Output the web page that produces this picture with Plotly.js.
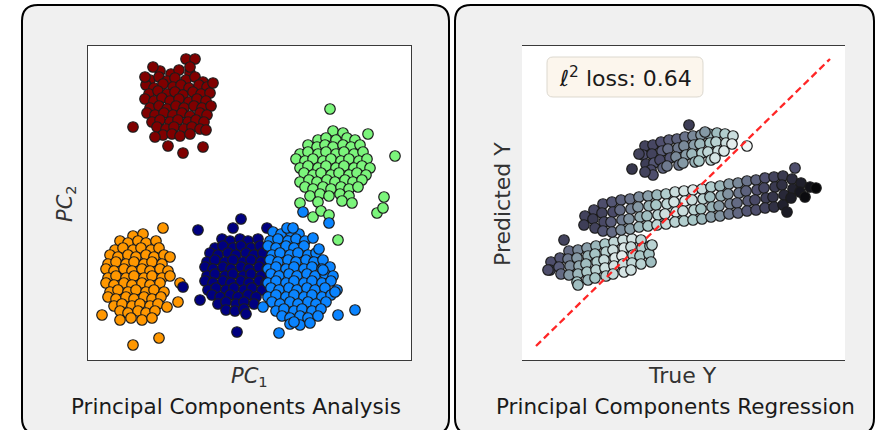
<!DOCTYPE html>
<html>
<head>
<meta charset="utf-8">
<script src="https://cdn.plot.ly/plotly-3.0.1.min.js"></script>
<style>
  html, body { margin: 0; padding: 0; background: #ffffff; }
  #chart { width: 876px; height: 430px; }
</style>
</head>
<body>
<div id="chart"></div>
<script>
// ---------- Principal Components Analysis: five clusters in (PC1, PC2) ----------
const darkRedX = [7.2,8.3,9.1,10.2, 6.2,7.1,7.9,8.7,9.8,10.7,11.5, 5.8,6.6,7.5,8.5,9.3,10.1,11.1,11.9,
  6.1,7.0,7.9,8.7,9.5,10.5,11.3,12.2, 5.7,6.6,7.4,8.2,9.1,10.1,10.9,11.8, 6.2,7.1,7.9,8.8,9.6,10.6,11.4,12.3,
  5.9,6.7,7.6,8.5,9.4,10.2,11.2,11.9, 6.4,7.2,8.2,9.0,10.0,10.8,11.6, 6.9,7.8,8.6,9.6,10.4,11.2, 7.5,8.4,9.2,10.2,
  4.5,12.5,9.8,10.7,6.5,5.7,9.5,11.5,8.0,6.7,11.8,10.2];
const darkRedY = [28.9,28.6,29.0,28.7, 28.0,28.3,27.9,28.2,28.0,28.3,27.8, 27.5,27.2,27.6,27.3,27.5,27.2,27.5,27.3,
  26.6,26.9,26.6,26.8,26.5,26.8,26.6,26.7, 26.1,25.9,26.2,25.9,26.1,25.8,26.1,25.9, 25.2,25.4,25.1,25.4,25.2,25.4,25.2,25.4,
  24.7,24.5,24.7,24.5,24.7,24.4,24.7,24.5, 23.8,24.0,23.8,24.0,23.8,24.0,23.8, 23.3,23.1,23.3,23.1,23.3,23.1, 22.5,22.6,22.4,22.6,
  23.3,27.7,30.1,30.1,29.3,28.3,20.7,21.3,21.4,22.3,23.0,29.3];

const greenX = [24.5,25.5, 23.0,23.8,24.8,25.9,26.7, 22.0,22.9,23.7,24.5,25.5,26.3,27.2,
  21.2,22.0,23.0,23.8,24.8,25.6,26.6,27.5, 20.8,21.7,22.5,23.5,24.3,25.3,26.1,27.1,27.9,
  21.2,22.0,23.0,23.8,24.8,25.6,26.6,27.4,28.2, 21.6,22.5,23.3,24.3,25.1,26.1,26.9,27.8,
  21.2,22.1,22.9,23.9,24.7,25.7,26.5,27.4, 21.7,22.5,23.5,24.3,25.3,26.1,27.0, 22.2,23.2,24.1,25.2,26.1, 23.0,25.4,26.4,
  24.2,30.7,28.0,29.6,28.9,29.5,25.0,22.5,23.3,24.1,21.2];
const greenY = [22.9,22.7, 22.0,22.2,22.0,22.2,22.0, 21.5,21.3,21.5,21.3,21.5,21.3,21.5,
  20.6,20.8,20.6,20.8,20.6,20.8,20.6,20.8, 20.1,19.9,20.1,19.9,20.1,19.9,20.1,19.9,20.1,
  19.2,19.4,19.2,19.4,19.2,19.4,19.2,19.4,19.2, 18.7,18.5,18.7,18.5,18.7,18.5,18.7,18.5,
  17.8,18.0,17.8,18.0,17.8,18.0,17.8,18.0, 17.3,17.1,17.3,17.1,17.3,17.1,17.3, 16.4,16.6,16.4,16.6,16.4, 15.8,15.9,15.7,
  25.1,20.4,22.6,16.3,14.7,15.2,12.0,14.3,14.9,14.5,15.7];

const orangeX = [4.5,5.5, 3.2,4.0,5.0,5.8,6.8, 2.7,3.5,4.5,5.3,6.3,7.1, 2.2,3.0,4.0,4.8,5.8,6.6,7.6,8.2,
  2.0,2.8,3.8,4.6,5.6,6.4,7.4, 1.8,2.6,3.6,4.4,5.4,6.2,7.2,8.0, 2.0,2.8,3.8,4.6,5.6,6.4,7.4,8.2,
  1.8,2.6,3.6,4.4,5.4,6.2,7.2, 2.2,3.0,4.0,4.8,5.8,6.6,7.6, 2.0,2.8,3.8,4.6,5.6,6.4,7.3,
  2.6,3.4,4.4,5.2,6.2,7.0, 3.2,4.0,5.0,5.8,6.7, 3.2,4.3,5.4,6.4,
  1.4,4.5,7.1,9.0,7.9,9.2,7.5];
const orangeY = [12.4,12.6, 11.9,11.7,11.9,11.7,11.9, 11.0,11.2,11.0,11.2,11.0,11.2, 10.5,10.3,10.5,10.3,10.5,10.3,10.5,10.3,
  9.6,9.8,9.6,9.8,9.6,9.8,9.6, 9.1,8.9,9.1,8.9,9.1,8.9,9.1,8.9, 8.2,8.4,8.2,8.4,8.2,8.4,8.2,8.4,
  7.7,7.5,7.7,7.5,7.7,7.5,7.7, 6.8,7.0,6.8,7.0,6.8,7.0,6.8, 6.3,6.1,6.3,6.1,6.3,6.1,6.3,
  5.4,5.6,5.4,5.6,5.4,5.6, 4.9,4.7,4.9,4.7,4.9, 4.0,4.2,4.0,4.2,
  4.5,1.5,2.2,5.8,5.3,7.7,13.2];

const navyX = [13.4,14.2,15.2,16.0,17.0, 12.7,13.5,14.5,15.3,16.3,17.2, 12.2,13.0,14.0,14.8,15.8,16.6,17.5,
  11.9,12.7,13.7,14.5,15.5,16.3,17.3, 11.7,12.5,13.5,14.3,15.3,16.1,17.1,17.9, 11.9,12.7,13.7,14.5,15.5,16.3,17.3,
  11.7,12.5,13.5,14.3,15.3,16.1,17.1,17.8, 12.0,12.8,13.8,14.6,15.6,16.4,17.4, 12.4,13.2,14.2,15.0,16.0,16.8,
  13.0,13.8,14.8,15.6,16.6, 13.8,14.7,15.6,
  11.0,15.3,14.5,17.9,11.2,14.9,15.8,9.5];
const navyY = [12.1,11.9,12.1,11.9,12.1, 11.2,11.4,11.2,11.4,11.2,11.4, 10.7,10.5,10.7,10.5,10.7,10.5,10.7,
  9.8,10.0,9.8,10.0,9.8,10.0,9.8, 9.3,9.1,9.3,9.1,9.3,9.1,9.3,9.1, 8.4,8.6,8.4,8.6,8.4,8.6,8.4,
  7.9,7.7,7.9,7.7,7.9,7.7,7.9,7.7, 7.0,7.2,7.0,7.2,7.0,7.2,7.0, 6.5,6.3,6.5,6.3,6.5,6.3,
  5.6,5.8,5.6,5.8,5.6, 5.0,4.9,5.1,
  13.0,14.1,13.2,13.2,6.0,2.8,4.6,7.3];

const blueX = [18.5,19.3,20.3,21.1, 18.2,19.0,20.0,20.8,21.7, 18.0,18.8,19.8,20.6,21.6, 18.4,19.2,20.2,21.0,22.0,22.8,
  18.2,19.0,20.0,20.8,21.8,22.6,23.5, 18.0,18.8,19.8,20.6,21.6,22.4,23.4,24.2, 18.3,19.1,20.1,20.9,21.9,22.7,23.7,24.5,
  18.0,18.8,19.8,20.6,21.6,22.4,23.4,24.3, 18.3,19.1,20.1,20.9,21.9,22.7,23.7, 18.0,18.8,19.8,20.6,21.6,22.4,23.4,24.3,
  18.4,19.2,20.2,21.0,22.0,22.8,23.8, 18.8,19.6,20.6,21.4,22.4,23.3, 19.4,20.2,21.2,22.0,23.0, 20.2,21.2,22.2,
  19.9,20.5,22.5,23.1,23.5,24.9,26.7,25.0,19.1,20.6,17.5,21.5,24.1,24.7];
const blueY = [12.8,12.6,12.8,12.6, 11.9,12.1,11.9,12.1,11.9, 11.4,11.2,11.4,11.2,11.4, 10.5,10.7,10.5,10.7,10.5,10.7,
  10.0,9.8,10.0,9.8,10.0,9.8,10.0, 9.1,9.3,9.1,9.3,9.1,9.3,9.1,9.3, 8.6,8.4,8.6,8.4,8.6,8.4,8.6,8.4,
  7.7,7.9,7.7,7.9,7.7,7.9,7.7,7.9, 7.2,7.0,7.2,7.0,7.2,7.0,7.2, 6.3,6.5,6.3,6.5,6.3,6.5,6.3,6.5,
  5.8,5.6,5.8,5.6,5.8,5.6,5.8, 4.9,5.1,4.9,5.1,4.9,5.1, 4.4,4.2,4.4,4.2,4.4, 3.6,3.5,3.7,
  13.2,13.2,12.2,11.1,9.0,7.0,5.0,4.5,2.7,3.8,5.3,14.8,13.7,6.8];

// ---------- Principal Components Regression: true vs predicted, coloured by value ----------
const upperX = [12.3,12.1,12.4, 13.1,13.0,13.2,12.9, 13.9,14.0,13.8,14.1, 14.7,14.6,14.8,14.5, 15.5,15.6,15.4,15.7,
  16.3,16.2,16.4,16.1, 17.1,17.2,17.0,17.3, 17.9,17.8,18.0,17.7, 18.7,18.8,18.6,18.9, 19.5,19.4,19.6,19.3,
  20.3,20.4,20.2, 21.1,21.0, 16.7,11.0,11.7,22.5,18.3,13.1,12.3];
const upperY = [21.4,20.5,19.6, 21.5,20.6,19.7,19.0, 21.8,20.9,20.0,19.2, 22.0,21.1,20.2,19.4, 22.1,21.2,20.3,19.5,
  22.3,21.4,20.5,19.7, 22.4,21.5,20.6,19.8, 22.5,21.6,20.7,19.9, 22.6,21.7,20.8,20.0, 22.7,21.8,20.9,20.2,
  22.6,21.7,20.9, 22.4,21.6, 23.5,19.1,20.6,21.4,22.8,18.5,18.8];
const upperC = [.30,.35,.28, .32,.30,.38,.34, .36,.40,.33,.42, .40,.45,.38,.50, .42,.50,.55,.48,
  .48,.55,.62,.60, .55,.62,.70,.68, .60,.70,.78,.75, .68,.75,.82,.80, .72,.80,.86,.88,
  .78,.85,.90, .85,.92, .28,.25,.30,.96,.60,.35,.30];

const middleX = [6.3,6.2, 7.2,7.1,7.3, 8.1,8.0,8.2,8.1, 9.0,9.1,8.9,9.0, 9.9,9.8,10.0,9.9, 10.8,10.9,10.7,10.8,
  11.7,11.6,11.8,11.7, 12.6,12.7,12.5,12.6, 13.5,13.4,13.6,13.5, 14.4,14.5,14.3,14.4, 15.3,15.2,15.4,15.3,
  16.2,16.3,16.1,16.2, 17.1,17.0,17.2,17.1, 18.0,18.1,17.9,18.0, 18.9,18.8,19.0,18.9, 19.8,19.9,19.7,19.8,
  20.7,20.6,20.8,20.7, 21.6,21.7,21.5,21.6, 22.5,22.4,22.6,22.5, 23.4,23.5,23.3,23.4, 24.3,24.2,24.4,24.3,
  25.2,25.3,25.1,25.2, 26.1,26.0,26.2,26.1, 27.0,27.1,26.9, 27.9,27.8, 28.8,
  29.4,28.3,26.5,27.3];
const middleY = [14.4,13.5, 15.0,14.1,13.2, 15.6,14.7,13.8,12.9, 15.8,14.8,13.8,12.8, 16.0,15.0,14.0,13.0, 16.1,15.1,14.1,13.1,
  16.3,15.3,14.3,13.3, 16.4,15.4,14.4,13.4, 16.5,15.5,14.5,13.5, 16.6,15.6,14.6,13.6, 16.8,15.8,14.8,13.8,
  16.9,15.9,14.9,13.9, 17.0,16.0,15.0,14.0, 17.1,16.1,15.1,14.1, 17.3,16.3,15.3,14.3, 17.4,16.4,15.4,14.4,
  17.6,16.6,15.6,14.6, 17.7,16.7,15.7,14.7, 17.9,16.9,15.9,14.9, 18.0,17.0,16.0,15.0, 18.2,17.2,16.2,15.2,
  18.3,17.3,16.3,15.3, 18.4,17.5,16.5,15.5, 18.1,17.1,16.2, 17.7,16.8, 17.3,
  17.2,16.3,14.8,19.2];
const middleC = [.30,.28, .32,.27,.30, .35,.30,.33,.38, .38,.34,.40,.45, .42,.45,.50,.55, .48,.52,.58,.62,
  .55,.60,.66,.70, .62,.68,.72,.76, .70,.75,.80,.82, .78,.82,.86,.84, .85,.88,.90,.80,
  .88,.92,.85,.78, .90,.85,.80,.75, .85,.80,.74,.70, .78,.72,.68,.62, .70,.66,.60,.58,
  .62,.58,.52,.50, .55,.50,.45,.44, .48,.42,.40,.38, .42,.36,.33,.35, .36,.32,.28,.30,
  .30,.26,.24,.22, .26,.22,.18,.15, .20,.15,.12, .14,.10, .08,
  .03,.05,.12,.35];

const lowerX = [2.9,2.8, 3.8,3.7,3.9, 4.7,4.6,4.8,4.7, 5.6,5.5,5.7,5.6,5.5, 6.5,6.6,6.4,6.5,6.6,
  7.4,7.3,7.5,7.4,7.3, 8.3,8.4,8.2,8.3,8.4, 9.2,9.1,9.3,9.2,9.1, 10.1,10.2,10.0,10.1,10.2,
  11.0,10.9,11.1,11.0,10.9, 11.9,12.0,11.8,11.9, 12.8,12.7,12.9,
  4.2,5.6,2.6,13.0];
const lowerY = [9.8,9.0, 10.2,9.3,8.6, 10.9,10.1,9.4,8.5, 11.0,10.2,9.4,8.6,7.8, 11.2,10.4,9.6,8.8,8.0,
  11.4,10.6,9.8,9.0,8.2, 11.6,10.8,10.0,9.2,8.4, 11.8,11.0,10.2,9.4,8.6, 12.0,11.2,10.4,9.6,8.8,
  12.1,11.3,10.5,9.7,9.0, 12.0,11.2,10.4,9.6, 11.4,10.6,9.8,
  12.0,7.5,9.0,11.5];
const lowerC = [.35,.32, .38,.40,.45, .45,.50,.55,.60, .55,.60,.65,.70,.75, .62,.68,.72,.76,.70,
  .70,.74,.78,.80,.75, .76,.80,.84,.86,.80, .82,.86,.90,.88,.84, .86,.90,.92,.85,.88,
  .88,.84,.80,.82,.86, .82,.78,.76,.80, .78,.74,.72,
  .30,.72,.35,.80];

// reference diagonal (perfect prediction)
const diagX = [1.4, 30.8];
const diagY = [1.4, 30.1];

// ---------- figure ----------
const W = 876, H = 430;
const px = v => v / W;
const py = v => 1 - v / H;

function roundedPanel(x0, y0, x1, y1, r) {
  const X = v => px(v).toFixed(5), Y = v => py(v).toFixed(5);
  return `M${X(x0 + r)},${Y(y0)} L${X(x1 - r)},${Y(y0)} Q${X(x1)},${Y(y0)} ${X(x1)},${Y(y0 + r)} ` +
         `L${X(x1)},${Y(y1 - r)} Q${X(x1)},${Y(y1)} ${X(x1 - r)},${Y(y1)} ` +
         `L${X(x0 + r)},${Y(y1)} Q${X(x0)},${Y(y1)} ${X(x0)},${Y(y1 - r)} ` +
         `L${X(x0)},${Y(y0 + r)} Q${X(x0)},${Y(y0)} ${X(x0 + r)},${Y(y0)} Z`;
}

const bone = [[0, '#000000'], [0.365, '#515171'], [0.746, '#a6c6c6'], [1, '#ffffff']];
const edge = { color: '#1c1c1c', width: 1.2 };
const MS = 10.5;

function cluster(x, y, color) {
  return { type: 'scatter', mode: 'markers', x, y, xaxis: 'x', yaxis: 'y', hoverinfo: 'skip',
           marker: { size: MS, color, line: edge } };
}
function band(x, y, c) {
  return { type: 'scatter', mode: 'markers', x, y, xaxis: 'x2', yaxis: 'y2', hoverinfo: 'skip',
           marker: { size: MS, color: c, colorscale: bone, cmin: 0, cmax: 1, showscale: false, line: edge } };
}

const traces = [
  cluster(darkRedX, darkRedY, '#800000'),
  cluster(greenX, greenY, '#7bf57b'),
  cluster(orangeX, orangeY, '#ff9700'),
  cluster(navyX, navyY, '#000080'),
  cluster(blueX, blueY, '#0a84ff'),
  band(lowerX, lowerY, lowerC),
  band(middleX, middleY, middleC),
  band(upperX, upperY, upperC),
  { type: 'scatter', mode: 'lines', x: diagX, y: diagY, xaxis: 'x2', yaxis: 'y2', hoverinfo: 'skip',
    line: { color: '#ff2626', width: 2.3, dash: '7px,4px' } }
];

const axisBase = { showticklabels: false, ticks: '', showgrid: false, zeroline: false,
                   showline: true, mirror: true, linecolor: '#3a3a3a', linewidth: 1, fixedrange: true };

const font = 'DejaVu Sans, Arial, sans-serif';
const label = (text, x, y, size, extra) => Object.assign({
  text, x: px(x), y: py(y), xref: 'paper', yref: 'paper', showarrow: false,
  xanchor: 'center', yanchor: 'middle', font: { family: font, size, color: '#1a1a1a' }
}, extra || {});

const layout = {
  width: W, height: H,
  margin: { l: 0, r: 0, t: 0, b: 0 },
  paper_bgcolor: '#ffffff', plot_bgcolor: '#ffffff',
  showlegend: false,
  xaxis: Object.assign({}, axisBase, { domain: [px(88), px(411)], range: [0, 32.3] }),
  yaxis: Object.assign({}, axisBase, { domain: [py(360), py(46)], range: [0, 31.4] }),
  xaxis2: Object.assign({}, axisBase, { domain: [px(522), px(845)], range: [0, 32.3] }),
  yaxis2: Object.assign({}, axisBase, { domain: [py(360), py(46)], range: [0, 31.4] }),
  shapes: [
    { type: 'path', xref: 'paper', yref: 'paper', layer: 'below', path: roundedPanel(22, 5, 449, 434, 16),
      fillcolor: '#f0f0f0', line: { color: '#000000', width: 2 } },
    { type: 'path', xref: 'paper', yref: 'paper', layer: 'below', path: roundedPanel(455, 5, 874, 434, 16),
      fillcolor: '#f0f0f0', line: { color: '#000000', width: 2 } },
    { type: 'rect', xref: 'paper', yref: 'paper', layer: 'below', x0: px(88), x1: px(411), y0: py(360), y1: py(46),
      fillcolor: '#ffffff', line: { width: 0 } },
    { type: 'rect', xref: 'paper', yref: 'paper', layer: 'below', x0: px(522), x1: px(845), y0: py(360), y1: py(46),
      fillcolor: '#ffffff', line: { width: 0 } },
    { type: 'path', xref: 'paper', yref: 'paper', layer: 'above', path: roundedPanel(547, 57, 703, 97, 6),
      fillcolor: 'rgba(252,246,236,0.95)', line: { color: '#dcd8cf', width: 1 } }
  ],
  annotations: [
    label('<i>PC</i><sub>1</sub>', 249, 377, 21, { font: { family: font, size: 21, color: '#333333' } }),
    label('<i>PC</i><sub>2</sub>', 66, 204, 21, { textangle: -90, font: { family: font, size: 21, color: '#333333' } }),
    label('Principal Components Analysis', 236, 406, 21.5),
    label('True Y', 682, 375, 22, { font: { family: font, size: 22, color: '#333333' } }),
    label('Predicted Y', 502, 204, 22, { textangle: -90, font: { family: font, size: 22, color: '#333333' } }),
    label('Principal Components Regression', 675, 406, 21.5),
    label('ℓ<sup>2</sup> loss: 0.64', 625, 77, 22)
  ]
};

Plotly.newPlot('chart', traces, layout, { staticPlot: true, displayModeBar: false });
</script>
</body>
</html>
